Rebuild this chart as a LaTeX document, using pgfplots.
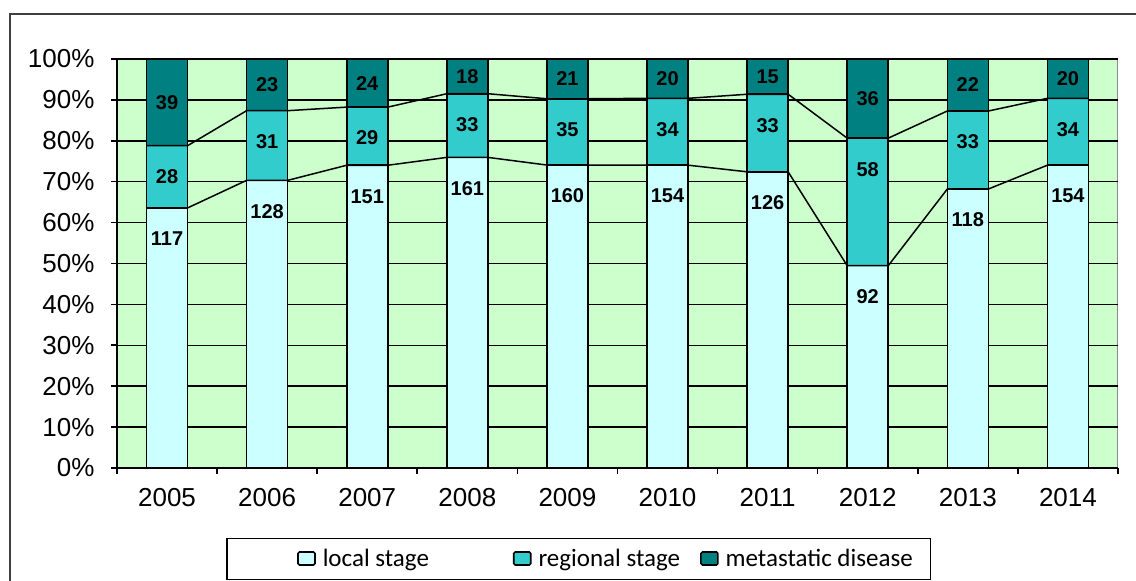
\documentclass[border=0pt]{standalone}
\usepackage{pgfplots}
\pgfplotsset{compat=1.18}
\usepackage{pgfplotstable}
\usepackage{fontspec}
\setmainfont{Liberation Sans}
\newfontfamily\legendfont{Carlito}

\definecolor{plotbg}{HTML}{CCFFCC}
\definecolor{localc}{HTML}{CCFFFF}
\definecolor{regc}{HTML}{33CCCC}
\definecolor{metac}{HTML}{008080}

% cases per year by stage at diagnosis
\pgfplotstableread{
x local regional meta
0 117 28 39
1 128 31 23
2 151 29 24
3 161 33 18
4 160 35 21
5 154 34 20
6 126 33 15
7  92 58 36
8 118 33 22
9 154 34 20
}\stages

% same counts at the left and right edge of every bar (series lines)
\pgfplotstableread{
xe local regional meta
-0.205 117 28 39
0.205 117 28 39
0.795 128 31 23
1.205 128 31 23
1.795 151 29 24
2.205 151 29 24
2.795 161 33 18
3.205 161 33 18
3.795 160 35 21
4.205 160 35 21
4.795 154 34 20
5.205 154 34 20
5.795 126 33 15
6.205 126 33 15
6.795  92 58 36
7.205  92 58 36
7.795 118 33 22
8.205 118 33 22
8.795 154 34 20
9.205 154 34 20
}\edges

\newcommand{\tot}{(\thisrow{local}+\thisrow{regional}+\thisrow{meta})}

\pgfplotsset{
  frame geometry/.style={
    at={(117pt,113pt)}, anchor=south west,
    width=1001pt, height=409pt, scale only axis,
    xmin=-0.5, xmax=9.5, ymin=0, ymax=100,
  },
  stage key/.style={
    legend image code/.code={%
      \path (-#1,0pt);
      \draw[##1, draw=black, line width=1.6pt, rounded corners=1.5pt]
        (0pt,-6pt) rectangle (17pt,7pt);},
  },
}

\begin{document}
\begin{tikzpicture}[x=1pt,y=1pt]
\clip (0,0) rectangle (1136,581);
\useasboundingbox (0,0) rectangle (1136,581);
\draw[line width=2pt, draw=black!75] (10,567) rectangle (1170,-30);

\begin{axis}[
  frame geometry,
  ybar stacked, bar width=0.41,
  axis lines*=left,
  x axis line style={-}, y axis line style={-},
  axis line style={line width=1.6pt, black},
  axis background/.style={fill=plotbg, draw=black!45, line width=1pt},
  ymajorgrids, grid style={black, line width=1.5pt},
  ytick={0,10,...,100},
  yticklabel={\pgfmathprintnumber{\tick}\%},
  /pgf/number format/assume math mode=true,
  yticklabel style={font=\fontsize{26}{26}\selectfont, xshift=-13pt},
  xtick={-0.5,0.5,1.5,2.5,3.5,4.5,5.5,6.5,7.5,8.5,9.5},
  xticklabels={},
  tick align=outside, major tick length=6pt,
  tick style={black, line width=1.6pt},
  legend columns=3,
  legend style={
    at={(0.4615,-0.2225)}, anchor=center,
    draw=black, line width=1.4pt,
    font=\legendfont\fontsize{25}{25}\selectfont,
    inner xsep=16pt, inner ysep=9pt,
    /tikz/every odd column/.append style={column sep=5pt},
    /tikz/column 2/.style={column sep=82pt},
    /tikz/column 4/.style={column sep=18pt},
  },
]
\addplot[fill=localc, draw=black, line width=1.6pt, stage key=54pt]
  table[x=x, y expr={\thisrow{local}/\tot*100}] {\stages};
\addplot[fill=regc, draw=black, line width=1.6pt, stage key=0pt]
  table[x=x, y expr={\thisrow{regional}/\tot*100}] {\stages};
\addplot[fill=metac, draw=black, line width=1.6pt, stage key=0pt]
  table[x=x, y expr={\thisrow{meta}/\tot*100}] {\stages};
\legend{local stage, regional stage, metastatic disease}
\end{axis}

\begin{axis}[
  frame geometry,
  clip=false,
  axis line style={draw=none},
  major tick length=0pt,
  ytick=\empty,
  xtick={0,...,9},
  xticklabels={2005,2006,2007,2008,2009,2010,2011,2012,2013,2014},
  xticklabel style={font=\fontsize{26}{26}\selectfont, yshift=-17pt},
  label node/.style={
    only marks, mark=text, text mark={},
    point meta=explicit symbolic,
    nodes near coords={\pgfplotspointmeta},
    every node near coord/.append style={
      anchor=center, inner sep=0pt, text=black,
      font=\fontsize{20}{20}\selectfont\bfseries, yshift=#1},
  },
]
% series lines between the bars
\addplot[black, line width=1.5pt, mark=none]
  table[x=xe, y expr={\thisrow{local}/\tot*100}] {\edges};
\addplot[black, line width=1.5pt, mark=none]
  table[x=xe, y expr={(\thisrow{local}+\thisrow{regional})/\tot*100}] {\edges};
% value labels
\addplot[label node=-31pt]
  table[x=x, y expr={\thisrow{local}/\tot*100}, meta=local] {\stages};
\addplot[label node=-31pt]
  table[x=x, y expr={(\thisrow{local}+\thisrow{regional})/\tot*100}, meta=regional] {\stages};
\addplot[label node=0pt]
  table[x=x, y expr={(\thisrow{local}+\thisrow{regional}+0.5*\thisrow{meta})/\tot*100}, meta=meta] {\stages};
\end{axis}
\end{tikzpicture}
\end{document}
